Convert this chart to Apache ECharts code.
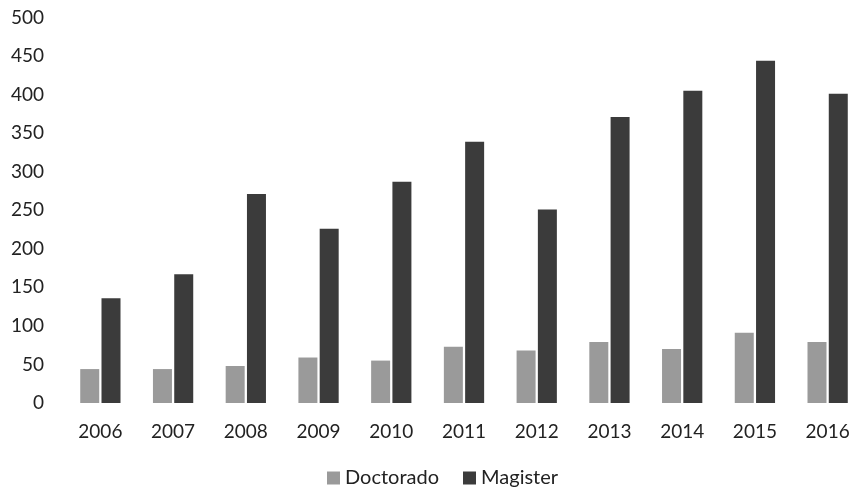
<!DOCTYPE html>
<html>
<head>
<meta charset="utf-8">
<script src="https://cdn.jsdelivr.net/npm/echarts@6/dist/echarts.min.js"></script>
<style>html,body{margin:0;padding:0;background:#fff;}#c{width:864px;height:490px;}</style>
</head>
<body>
<div id="c"></div>
<script>
const categories = ['2006','2007','2008','2009','2010','2011','2012','2013','2014','2015','2016'];
const doctorado = [44, 44, 48, 59, 55, 73, 68, 79, 70, 91, 79];
const magister = [136, 167, 271, 226, 287, 339, 251, 371, 405, 444, 401];
const seriesNames = ['Doctorado', 'Magister'];

const chart = echarts.init(document.getElementById('c'));
const font = 'Lato, "Open Sans", sans-serif';
chart.setOption({
  animation: false,
  backgroundColor: '#fff',
  grid: { left: 64, top: 17.5, width: 812, bottom: 87, containLabel: false },
  legend: {
    data: seriesNames,
    left: 327,
    top: 468,
    padding: 0,
    itemWidth: 13,
    itemHeight: 13,
    itemGap: 24,
    icon: 'rect',
    textStyle: { fontFamily: font, fontSize: 20, color: '#222' }
  },
  xAxis: {
    type: 'category',
    data: categories,
    axisLine: { show: false },
    axisTick: { show: false },
    axisLabel: { fontFamily: font, fontSize: 19, color: '#222', margin: 19 }
  },
  yAxis: {
    type: 'value',
    min: 0, max: 500, interval: 50,
    splitLine: { show: false },
    axisLine: { show: false },
    axisTick: { show: false },
    axisLabel: { fontFamily: font, fontSize: 19, color: '#222', margin: 20 }
  },
  series: [
    { name: seriesNames[0], type: 'bar', data: doctorado, barWidth: 19, barGap: '12%', itemStyle: { color: '#9a9a9a' } },
    { name: seriesNames[1], type: 'bar', data: magister, barWidth: 19, barGap: '12%', itemStyle: { color: '#3b3b3b' } }
  ]
});
</script>
</body>
</html>
